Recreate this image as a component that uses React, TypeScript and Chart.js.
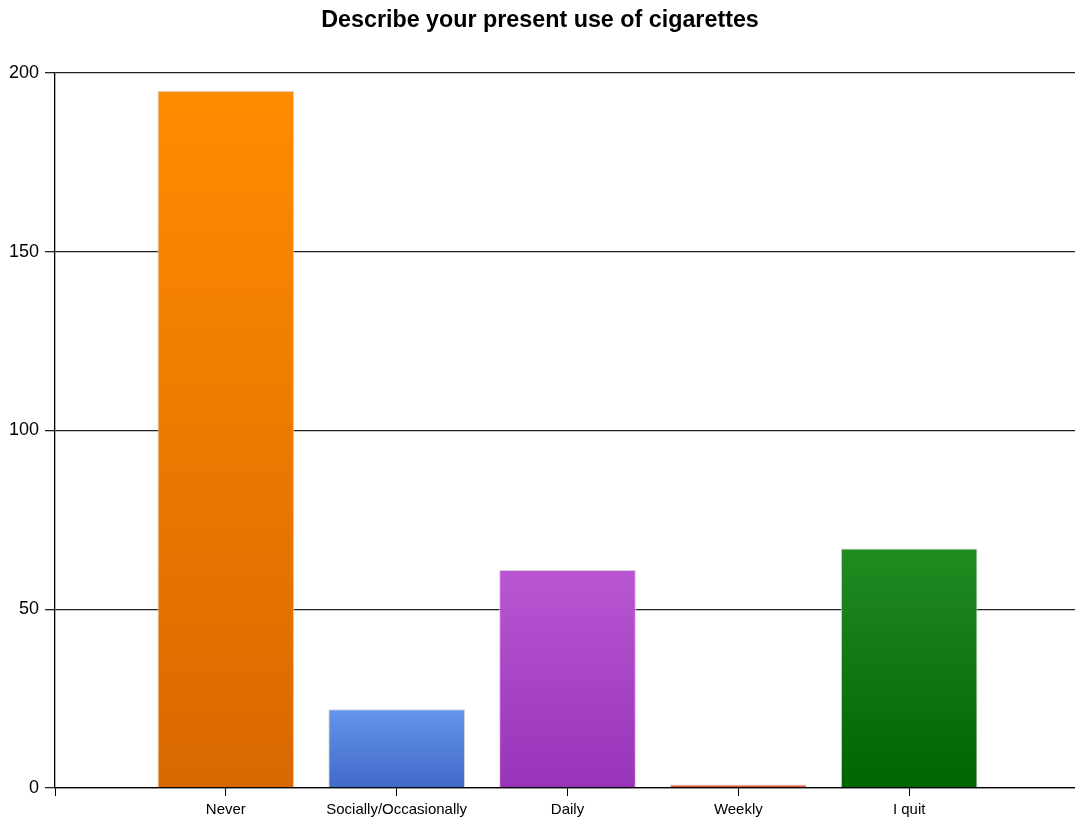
import React, { useEffect, useRef } from 'react';
import { Chart, registerables } from 'chart.js';

Chart.register(...registerables);

const titleText = 'Describe your present use of cigarettes';
const categories = ['Never', 'Socially/Occasionally', 'Daily', 'Weekly', 'I quit'];
const counts = [195, 22, 61, 1, 67];
const topColors = ['#FF8C00', '#6495ED', '#BA55D3', '#FF6347', '#228B22'];
const bottomColors = ['#D96800', '#4169C8', '#9933B8', '#D9442A', '#006400'];
const yMin = 0;
const yMax = 200;
const yStep = 50;

export default function App() {
  const ref = useRef<HTMLCanvasElement>(null);

  useEffect(() => {
    document.body.style.margin = '0';
    document.body.style.overflow = 'hidden';
    const labels = ['', ...categories, ''];
    const data: (number | null)[] = [null, ...counts, null];

    const chart = new Chart(ref.current as HTMLCanvasElement, {
      type: 'bar',
      data: {
        labels,
        datasets: [
          {
            data,
            backgroundColor: (ctx: any) => {
              const c = ctx.chart;
              const i = ctx.dataIndex - 1;
              if (ctx.type !== 'data' || i < 0 || i >= categories.length) return 'transparent';
              const ys = c.scales?.y;
              const v = ctx.raw;
              if (!ys || v == null || !c.chartArea) return topColors[i];
              const top = ys.getPixelForValue(v);
              const bottom = ys.getPixelForValue(0);
              if (!isFinite(top) || !isFinite(bottom) || bottom - top < 1) return topColors[i];
              const g = c.ctx.createLinearGradient(0, top, 0, bottom);
              g.addColorStop(0, topColors[i]);
              g.addColorStop(1, bottomColors[i]);
              return g;
            },
            borderColor: '#D6D6D6',
            borderWidth: 1,
            barPercentage: 1,
            categoryPercentage: 0.8,
          },
        ],
      },
      options: {
        animation: false,
        responsive: true,
        maintainAspectRatio: false,
        layout: { padding: { left: 0, right: 0, top: 0, bottom: 0 } },
        plugins: {
          legend: { display: false },
          tooltip: { enabled: false },
          title: {
            display: true,
            text: titleText,
            color: '#000',
            font: { family: 'Liberation Sans, Arial, sans-serif', size: 23.3, weight: 'bold' },
            padding: { top: 7, bottom: 38 },
          },
        },
        scales: {
          x: {
            type: 'category',
            offset: false,
            grid: { offset: false, drawOnChartArea: false, drawTicks: true, tickLength: 8, color: '#000' },
            border: { color: '#000', width: 1.3 },
            ticks: {
              color: '#000',
              autoSkip: false,
              maxRotation: 0,
              padding: 5,
              font: { family: 'Liberation Sans, Arial, sans-serif', size: 15 },
            },
            afterFit: (s: any) => {
              s.height = 37;
              s.paddingRight = 0;
              s.paddingLeft = 0;
            },
          },
          y: {
            min: yMin,
            max: yMax,
            grid: { color: '#222', tickLength: 10, lineWidth: 1.3 },
            border: { color: '#000', width: 1.3 },
            ticks: {
              stepSize: yStep,
              color: '#000',
              padding: 6,
              font: { family: 'Liberation Sans, Arial, sans-serif', size: 18 },
            },
            afterFit: (s: any) => {
              s.width = 55;
            },
          },
        },
      },
    });
    return () => chart.destroy();
  }, []);

  return (
    <div style={{ width: 1075, height: 825, overflow: 'hidden' }}>
      <div style={{ position: 'relative', width: 1080, height: 825 }}>
        <canvas ref={ref} />
      </div>
    </div>
  );
}
